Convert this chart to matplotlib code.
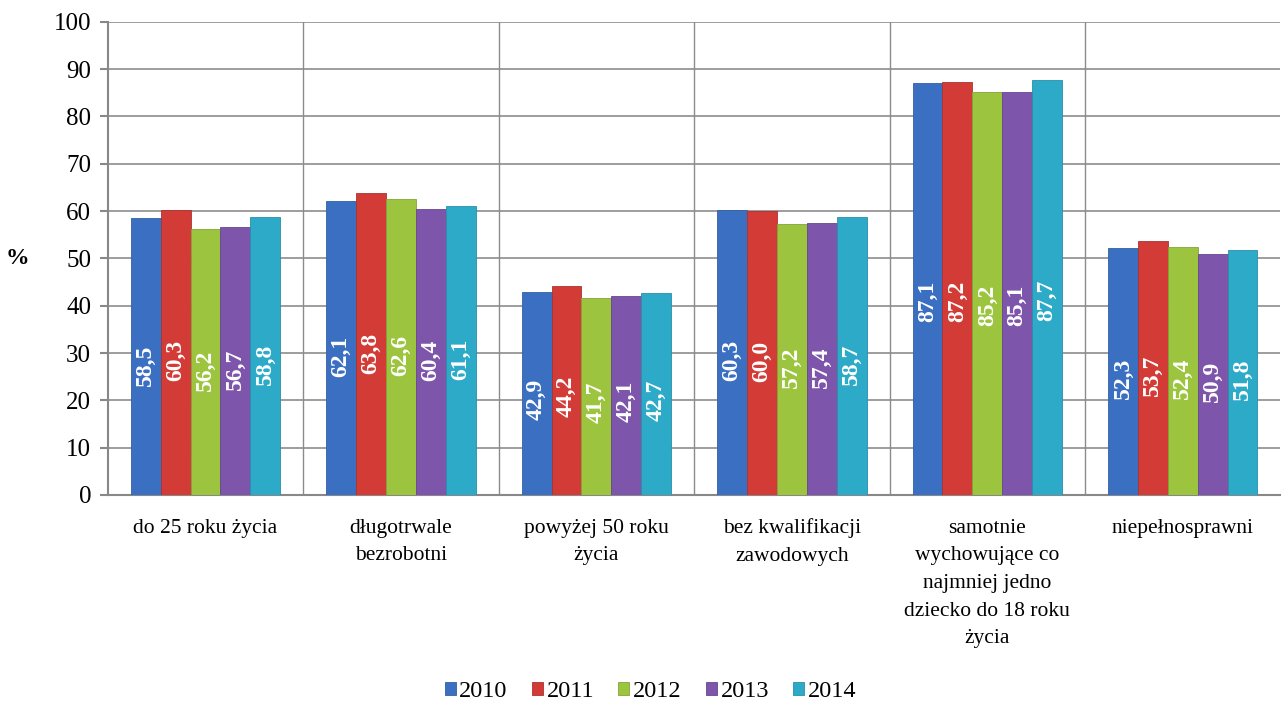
import matplotlib.pyplot as plt
import numpy as np

plt.rcParams['font.family'] = ['Liberation Serif', 'DejaVu Serif']

categories = ["do 25 roku życia", "długotrwale\nbezrobotni", "powyżej 50 roku\nżycia",
              "bez kwalifikacji\nzawodowych",
              "samotnie\nwychowujące co\nnajmniej jedno\ndziecko do 18 roku\nżycia",
              "niepełnosprawni"]
years = ["2010", "2011", "2012", "2013", "2014"]
v2010 = [58.5, 62.1, 42.9, 60.3, 87.1, 52.3]
v2011 = [60.3, 63.8, 44.2, 60.0, 87.2, 53.7]
v2012 = [56.2, 62.6, 41.7, 57.2, 85.2, 52.4]
v2013 = [56.7, 60.4, 42.1, 57.4, 85.1, 50.9]
v2014 = [58.8, 61.1, 42.7, 58.7, 87.7, 51.8]
series = [v2010, v2011, v2012, v2013, v2014]
colors = ["#3a6fc2", "#d23b36", "#9cc43f", "#7d55aa", "#2eaac9"]
edges = ["#345f9e", "#a83330", "#82a537", "#67468d", "#2790aa"]

fig = plt.figure(figsize=(12.83, 7.06), dpi=100)
ax = fig.add_axes([0.084, 0.299, 0.914, 0.670])

x = np.arange(len(categories))
w = 0.153
for i, (vals, c, ec) in enumerate(zip(series, colors, edges)):
    pos = x + (i - 2) * w
    ax.bar(pos, vals, w, color=c, edgecolor=ec, linewidth=0.6, label=years[i], zorder=3)
    for px, v in zip(pos, vals):
        ax.text(px, v * 0.47, f"{v:.1f}".replace(".", ","), rotation=90, ha="center", va="center",
                color="white", fontsize=17, fontweight="bold", zorder=4)

ax.set_xlim(-0.5, len(categories) - 0.5)
ax.set_ylim(0, 100)
ax.set_yticks(range(0, 101, 10))
ax.set_xticks(x)
ax.set_xticklabels(categories, fontsize=15.5, linespacing=1.62, va="top")
ax.tick_params(axis='x', length=0, pad=17)
ax.tick_params(axis='y', labelsize=18, color="#888888", length=6, width=1.5, pad=6)
ax.set_xticks(np.arange(0.5, len(categories) - 0.5, 1), minor=True)
ax.tick_params(axis='x', which='minor', length=0)
ax.grid(axis='y', color="#8c8c8c", linewidth=1.2, zorder=0)
ax.grid(axis='x', which='minor', color="#8c8c8c", linewidth=1.0, zorder=0)
for s in ["top", "right"]:
    ax.spines[s].set_visible(False)
ax.spines["left"].set_color("#888888")
ax.spines["left"].set_linewidth(1.5)
ax.spines["bottom"].set_color("#888888")
ax.spines["bottom"].set_linewidth(1.5)
ax.set_ylabel("%", rotation=0, fontsize=17, fontweight="bold", labelpad=26, va="center")

handles, labels = ax.get_legend_handles_labels()
fig.legend(handles, labels, loc="center", bbox_to_anchor=(0.507, 0.02), ncol=5, frameon=False,
           fontsize=17.5, handlelength=0.45, handleheight=0.45, handletextpad=0.15,
           columnspacing=1.0)

fig.savefig("out.png", dpi=100)
